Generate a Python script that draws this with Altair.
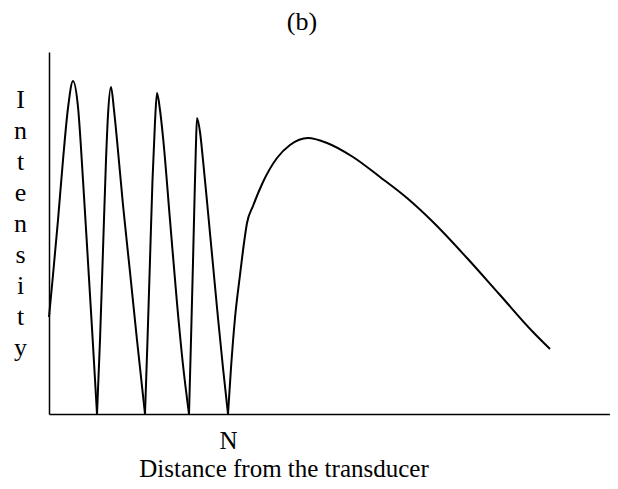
import altair as alt
import pandas as pd

# x = distance (arbitrary units), y = intensity (arbitrary units)
lobe0_x = [0, 4, 9, 14, 19, 24, 29, 34, 39, 44, 48]
lobe0_y = [97, 139, 194, 254, 306, 333, 307, 234, 152, 69, 0]

lobe1_x = [48, 51, 54, 57, 59, 62, 65, 68, 74, 81, 88, 96]
lobe1_y = [0, 74, 164, 254, 299, 327, 304, 274, 209, 142, 74, 0]

lobe2_x = [96, 98.5, 101, 103.5, 106, 108, 111, 114, 121, 128, 134, 140]
lobe2_y = [0, 74, 154, 234, 292, 321, 304, 277, 194, 111, 49, 0]

lobe3_x = [140, 142, 144, 145.5, 146.8, 148, 151, 154, 159, 164, 169, 174, 179]
lobe3_y = [0, 74, 152, 214, 264, 296, 282, 254, 202, 149, 96, 46, 0]

far_x = [179, 182, 186, 191, 195, 198, 204, 214, 228, 241, 259, 278, 304,
         331, 358, 384, 418, 451, 484, 501]
far_y = [0, 46, 96, 139, 171, 191, 208, 232, 256, 269, 276, 271, 257,
         237, 216, 192, 156, 119, 82, 65]

near_field_N = 179
x_domain = [0, 561]
y_domain = [0, 362]

segments = [
    ("lobe0", lobe0_x, lobe0_y),
    ("lobe1", lobe1_x, lobe1_y),
    ("lobe2", lobe2_x, lobe2_y),
    ("lobe3", lobe3_x, lobe3_y),
    ("far", far_x, far_y),
]
rows = []
for name, xs, ys in segments:
    for i, (xv, yv) in enumerate(zip(xs, ys)):
        rows.append({"seg": name, "order": i, "x": xv, "y": yv})
df = pd.DataFrame(rows)

FONT = "Liberation Serif"
FS = 26

y_title = list("Intensity")

line = alt.Chart(df).mark_line(
    color="black", strokeWidth=2, interpolate="monotone", clip=False
).encode(
    x=alt.X("x:Q", scale=alt.Scale(domain=x_domain, nice=False, zero=False),
            axis=alt.Axis(values=[near_field_N], labelExpr="'N'", ticks=False, tickSize=0,
                          grid=False, domainColor="black", domainWidth=1.5,
                          labelFont=FONT, labelFontSize=25, labelColor="black",
                          labelBaseline="alphabetic", labelPadding=34,
                          title="Distance from the transducer", titleFont=FONT,
                          titleFontSize=25, titleFontWeight="normal", titleColor="black",
                          titleX=234.5, titleY=62, titleAlign="center",
                          titleBaseline="alphabetic")),
    y=alt.Y("y:Q", scale=alt.Scale(domain=y_domain, nice=False),
            axis=alt.Axis(labels=False, ticks=False, grid=False, domainColor="black",
                          domainWidth=1.5, title=y_title, titleAngle=0, titleX=-29,
                          titleY=55, titleAlign="center", titleBaseline="alphabetic",
                          titleLineHeight=31, titleFont=FONT, titleFontSize=FS,
                          titleFontWeight="normal", titleColor="black")),
    detail="seg:N",
    order="order:Q",
)

panel_label = alt.Chart(pd.DataFrame({"t": ["(b)"]})).mark_text(
    font=FONT, fontSize=FS, color="black", align="center", baseline="alphabetic"
).encode(text="t:N", x=alt.value(253), y=alt.value(-22))

chart = alt.layer(line, panel_label).properties(
    width=561,
    height=362,
    autosize=alt.AutoSizeParams(type="none"),
    padding={"left": 41, "top": 44, "right": 0, "bottom": 67},
).configure_view(stroke=None)

chart.save("out.html", embed_options={"renderer": "svg", "actions": False})
